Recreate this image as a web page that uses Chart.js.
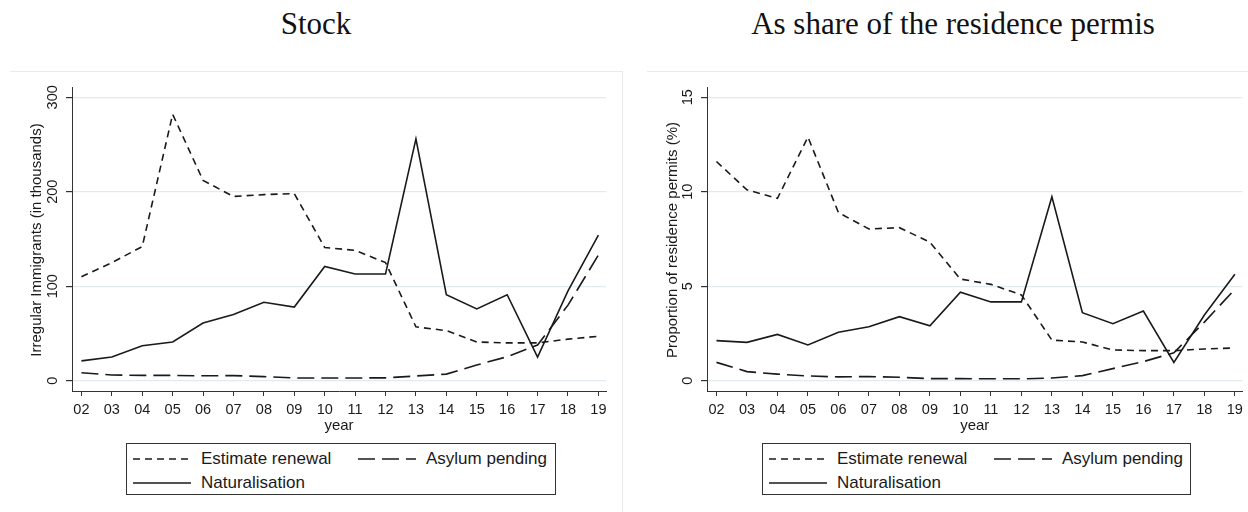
<!DOCTYPE html>
<html>
<head>
<meta charset="utf-8">
<script src="https://cdn.jsdelivr.net/npm/chart.js@4.4.1/dist/chart.umd.min.js"></script>
<style>
  body { margin: 0; background: #fff; width: 1248px; height: 512px; overflow: hidden; position: relative;
         font-family: "Liberation Sans", Arial, sans-serif; color: #1a1a1a; }
  .ttl { position: absolute; top: 8px; width: 500px; text-align: center;
         font: 31px/31px "Liberation Serif", "Times New Roman", serif; color: #111; }
  .rule { position: absolute; background: #e8eaeb; }
  canvas { position: absolute; top: 0; }
  .lg { position: absolute; top: 443px; height: 52px; border: 1px solid #333; box-sizing: border-box; }
  .lg svg { position: absolute; }
  .lg span { position: absolute; font-size: 17px; line-height: 20px; white-space: nowrap; color: #1a1a1a; }
</style>
</head>
<body>
<div class="ttl" style="left:66px">Stock</div>
<div class="ttl" style="left:703px">As share of the residence permis</div>

<!-- faint graph-region outlines -->
<div class="rule" style="left:10px;top:71px;width:612px;height:1px"></div>
<div class="rule" style="left:622px;top:71px;width:1px;height:441px"></div>
<div class="rule" style="left:647px;top:71px;width:601px;height:1px"></div>

<canvas id="stock" width="622" height="440" style="left:0"></canvas>
<canvas id="share" width="624" height="440" style="left:624px"></canvas>

<div class="lg" id="lgStock" style="left:126px;width:430px"></div>
<div class="lg" id="lgShare" style="left:762px;width:429px"></div>

<script>
// years on the x axis
const years = ['02','03','04','05','06','07','08','09','10','11','12','13','14','15','16','17','18','19'];
const seriesNames = ['Estimate renewal', 'Asylum pending', 'Naturalisation'];

// Stock (thousands)
const stockRenewal = [110, 125, 142, 282, 212, 195, 197, 198, 141, 138, 125, 57, 53, 41, 40, 40, 44, 47];
const stockAsylum  = [8.5, 6, 5.6, 5.6, 5.2, 5.4, 4.3, 2.9, 2.9, 2.9, 3, 5, 7, 16.6, 25.4, 37.8, 80, 133];
const stockNatural = [21, 25, 37, 41, 61, 70, 83, 78, 121, 113, 113, 256, 91, 76, 91, 25, 95, 154];
const stockTicks = [0, 100, 200, 300];

// As share of residence permits (%)
const shareRenewal = [11.6, 10.1, 9.65, 12.9, 8.9, 8.03, 8.1, 7.33, 5.38, 5.1, 4.54, 2.15, 2.05, 1.63, 1.59, 1.59, 1.68, 1.73];
const shareAsylum  = [0.97, 0.48, 0.35, 0.25, 0.2, 0.22, 0.18, 0.11, 0.11, 0.1, 0.1, 0.14, 0.27, 0.64, 1.01, 1.48, 3.1, 4.84];
const shareNatural = [2.12, 2.03, 2.45, 1.89, 2.56, 2.86, 3.39, 2.91, 4.68, 4.17, 4.17, 9.74, 3.6, 3.02, 3.69, 0.97, 3.48, 5.63];
const shareTicks = [0, 5, 10, 15];

const dashes = [[7, 5], [17, 7], []];
const ink = '#1a1a1a';

// Stata style y axis: rotated tick labels and title
const stataY = {
  id: 'stataY',
  afterDraw(chart, args, opts) {
    const ctx = chart.ctx;
    const y = chart.scales.y;
    ctx.save();
    ctx.fillStyle = ink;
    ctx.textAlign = 'center';
    ctx.textBaseline = 'middle';
    ctx.font = '14.5px "Liberation Sans", Arial, sans-serif';
    y.ticks.forEach(t => {
      ctx.save();
      ctx.translate(opts.tickX, y.getPixelForValue(t.value));
      ctx.rotate(-Math.PI / 2);
      ctx.fillText(String(t.value), 0, 1);
      ctx.restore();
    });
    ctx.font = '15px "Liberation Sans", Arial, sans-serif';
    ctx.translate(opts.titleX, (chart.chartArea.top + chart.chartArea.bottom) / 2 + 1);
    ctx.rotate(-Math.PI / 2);
    ctx.fillText(opts.title, 0, 0);
    ctx.restore();
  }
};

function makeChart(id, values, yMin, yMax, yTicks, yTitle, axisW, padRight, tickX, titleX) {
  const datasets = values.map((vals, i) => ({
    label: seriesNames[i],
    data: vals.map((v, k) => ({ x: Number(years[k]), y: v })),
    borderColor: ink,
    borderWidth: 1.6,
    borderDash: dashes[i],
    pointRadius: 0,
    tension: 0,
    fill: false
  }));
  return new Chart(document.getElementById(id), {
    type: 'line',
    data: { datasets: datasets },
    plugins: [stataY],
    options: {
      responsive: false,
      animation: false,
      devicePixelRatio: 1,
      layout: { padding: { top: 87, right: padRight, bottom: 5, left: 0 } },
      plugins: {
        legend: { display: false },
        tooltip: { enabled: false },
        stataY: { tickX: tickX, titleX: titleX, title: yTitle }
      },
      scales: {
        x: {
          type: 'linear',
          min: 1.69,
          max: 19.25,
          afterBuildTicks: s => { s.ticks = years.map(y => ({ value: Number(y) })); },
          afterFit: s => { s.height = 44; },
          grid: { drawOnChartArea: false, drawTicks: true, tickLength: 5, tickColor: '#333' },
          border: { display: true, color: '#333', width: 1 },
          ticks: {
            autoSkip: false, maxRotation: 0, padding: 5, color: ink,
            font: { family: '"Liberation Sans", Arial, sans-serif', size: 14.5 },
            callback: (v, i) => years[i]
          },
          title: {
            display: true, text: 'year', color: ink, padding: { top: 0, bottom: 0 },
            font: { family: '"Liberation Sans", Arial, sans-serif', size: 15, lineHeight: 1.2 }
          }
        },
        y: {
          min: yMin,
          max: yMax,
          afterBuildTicks: s => { s.ticks = yTicks.map(v => ({ value: v })); },
          afterFit: s => { s.width = axisW; },
          grid: { color: '#e2eaed', lineWidth: 1.2, drawTicks: true, tickLength: 6, tickColor: '#333' },
          border: { display: true, color: '#333', width: 1 },
          ticks: { display: false }
        }
      }
    }
  });
}

makeChart('stock', [stockRenewal, stockAsylum, stockNatural], -10.9, 310.9, stockTicks,
  'Irregular Immigrants (in thousands)', 72, 16, 52, 37);
makeChart('share', [shareRenewal, shareAsylum, shareNatural], -0.545, 15.545, shareTicks,
  'Proportion of residence permits (%)', 83, 5, 63, 49);

// legend boxes (Stata style, two columns)
function buildLegend(boxId) {
  const box = document.getElementById(boxId);
  const slots = [[6, 15], [231, 15], [6, 39]];
  seriesNames.forEach((name, i) => {
    const [sx, cy] = slots[i];
    const svg = document.createElementNS('http://www.w3.org/2000/svg', 'svg');
    svg.setAttribute('width', '58');
    svg.setAttribute('height', '4');
    svg.style.left = sx + 'px';
    svg.style.top = (cy - 2) + 'px';
    const ln = document.createElementNS('http://www.w3.org/2000/svg', 'line');
    ln.setAttribute('x1', '0'); ln.setAttribute('x2', '58');
    ln.setAttribute('y1', '2'); ln.setAttribute('y2', '2');
    ln.setAttribute('stroke', ink);
    ln.setAttribute('stroke-width', '1.6');
    if (dashes[i].length) ln.setAttribute('stroke-dasharray', dashes[i].join(' '));
    svg.appendChild(ln);
    box.appendChild(svg);
    const sp = document.createElement('span');
    sp.textContent = name;
    sp.style.left = (sx + 68) + 'px';
    sp.style.top = (cy - 10) + 'px';
    box.appendChild(sp);
  });
}
buildLegend('lgStock');
buildLegend('lgShare');
</script>
</body>
</html>
